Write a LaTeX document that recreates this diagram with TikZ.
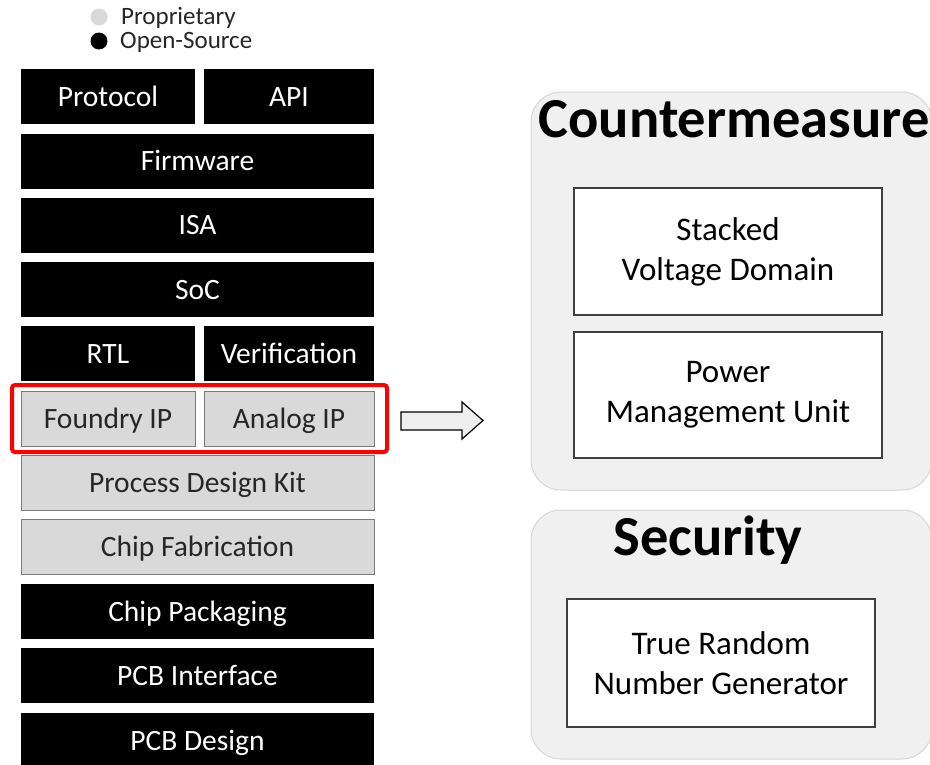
\documentclass[tikz,border=0pt]{standalone}
\usepackage{fontspec}
\setmainfont{Carlito}
\usetikzlibrary{positioning}
\definecolor{lgray}{HTML}{D9D9D9}
\definecolor{gborder}{HTML}{7A7A7A}
\definecolor{gtext}{HTML}{262626}
\definecolor{panelfill}{HTML}{F0F0F0}
\definecolor{panelline}{HTML}{D6D6D6}
\definecolor{arrowfill}{HTML}{EEEEEE}
\definecolor{selred}{HTML}{FF0000}
\begin{document}
\begin{tikzpicture}[x=1pt,y=-1pt,
  layer/.style={rectangle, inner sep=0pt, minimum height=55pt, text height=19pt, text depth=0pt, font=\fontsize{29.5}{34}\selectfont},
  blk/.style={layer, fill=black, text=white},
  gry/.style={layer, fill=lgray, draw=gborder, line width=1pt, text=gtext},
  full/.style={minimum width=353pt},
  lhalf/.style={minimum width=174pt},
  rhalf/.style={minimum width=170pt},
  panel/.style={rectangle, rounded corners=30pt, fill=panelfill, draw=panelline, line width=1pt, inner sep=0pt},
  ptitle/.style={anchor=base, font=\fontsize{56.5}{62}\selectfont\bfseries, text=black, inner sep=0pt},
  inbox/.style={rectangle, fill=white, draw=black!75, line width=1.2pt, align=center, inner sep=0pt, font=\fontsize{33}{40}\selectfont, text=black},
  legtext/.style={anchor=base west, font=\fontsize{25}{28}\selectfont, text=black!85, inner sep=0pt}
]
\useasboundingbox (0,0) rectangle (930,764);

% legend
\node[circle, fill=lgray, minimum size=17pt, inner sep=0pt] (legp) at (99,17) {};
\node[circle, fill=black, minimum size=17pt, inner sep=0pt] (lego) at (99,41) {};
\node[legtext] (legpt) at (121,24) {Proprietary};
\node[legtext] (legot) at (120,48) {Open-Source};

% stack
\node[blk, lhalf] (protocol) at (108,96.5) {Protocol};
\node[blk, rhalf] (api) at (289,96.5) {API};
\node[blk, full] (firmware) at (197.5,161) {Firmware};
\node[blk, full] (isa) at (197.5,225) {ISA};
\node[blk, full] (soc) at (197.5,289.5) {SoC};
\node[blk, lhalf] (rtl) at (108,353.5) {RTL};
\node[blk, rhalf] (verif) at (289,353.5) {Verification};
\node[gry, lhalf] (foundry) at (108,418.5) {Foundry IP};
\node[gry, rhalf] (analog) at (289,418.5) {Analog IP};
\node[gry, full] (pdk) at (197.5,482.5) {Process Design Kit};
\node[gry, full] (fab) at (197.5,546.5) {Chip Fabrication};
\node[blk, full] (pack) at (197.5,611.5) {Chip Packaging};
\node[blk, full] (pcbi) at (197.5,675.5) {PCB Interface};
\node[blk, full] (pcbd) at (197.5,740.5) {PCB Design};

% selection
\node[rectangle, draw=selred, line width=4pt, rounded corners=3pt, minimum width=375pt, minimum height=67pt, inner sep=0pt] (sel) at (199.5,418.5) {};

% block arrow
\draw[fill=arrowfill, draw=black, line width=1.2pt, line join=miter]
  (401,412) -- (462,412) -- (462,402) -- (483,420.5) -- (462,439) -- (462,430) -- (401,430) -- cycle;

% panels
\node[panel, minimum width=401pt, minimum height=398pt] (cm) at (731.5,291) {};
\node[ptitle] (cmt) at (734,137) {Countermeasure};
\node[inbox, minimum width=308pt, minimum height=127pt] (svd) at (728,251.5) {Stacked\\Voltage Domain};
\node[inbox, minimum width=308pt, minimum height=126pt] (pmu) at (728,395) {Power\\Management Unit};

\node[panel, minimum width=401pt, minimum height=249pt] (sec) at (731.5,634.5) {};
\node[ptitle] (sect) at (708,555) {Security};
\node[inbox, minimum width=308pt, minimum height=128pt] (trng) at (721,663) {True Random\\Number Generator};
\end{tikzpicture}
\end{document}
